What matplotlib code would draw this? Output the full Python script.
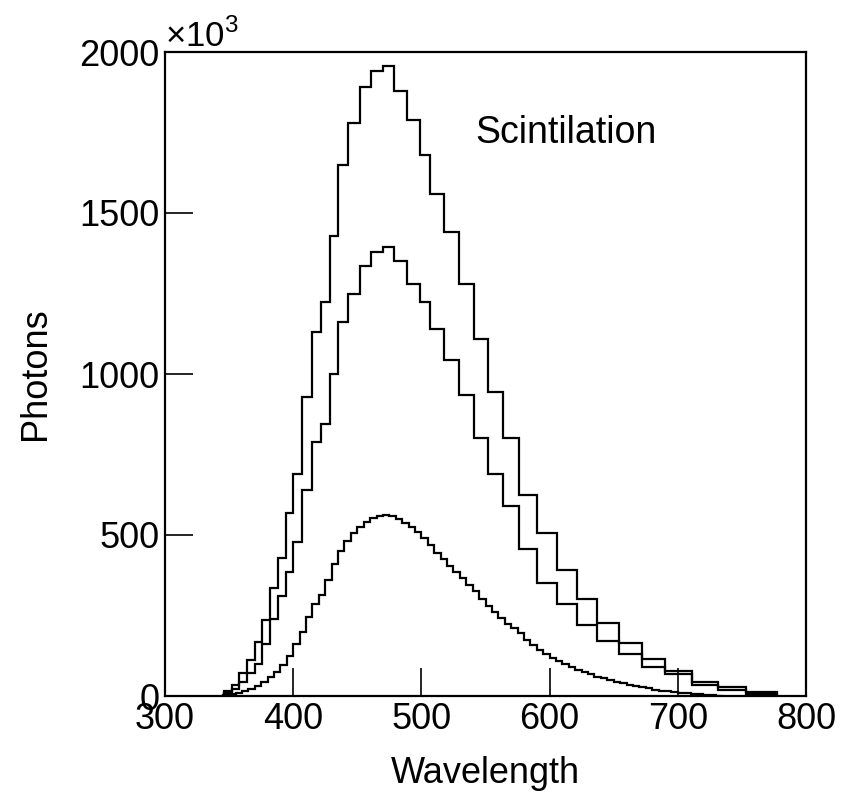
import numpy as np
import matplotlib
matplotlib.use("Agg")
import matplotlib.pyplot as plt

plt.rcParams['font.family'] = ['Liberation Sans', 'DejaVu Sans']
plt.rcParams['mathtext.fontset'] = 'custom'
plt.rcParams['mathtext.rm'] = 'Liberation Sans'

# bin edges (nm) shared by the two large spectra
edges_big = [346, 352, 358, 364, 370, 376, 382, 388, 394, 400, 407, 415, 422,
             429, 435, 443, 452, 461, 470, 479, 489, 499, 507, 518, 529, 541,
             552, 564, 576, 590, 606, 621, 637, 654, 672, 690, 711, 731, 753, 777]

# photons (x10^3)
top_vals = [15, 35, 70, 112, 168, 236, 335, 430, 568, 690, 930, 1130, 1225,
            1430, 1650, 1780, 1890, 1940, 1955, 1880, 1790, 1680, 1560, 1440,
            1280, 1110, 945, 800, 625, 505, 390, 300, 228, 166, 115, 78, 45,
            28, 12]
mid_vals = [8, 22, 45, 70, 100, 160, 240, 310, 385, 478, 640, 790, 845,
            1000, 1160, 1250, 1335, 1380, 1395, 1350, 1280, 1225, 1140, 1045,
            935, 800, 690, 590, 455, 350, 285, 220, 172, 130, 90, 68, 35,
            18, 5]

# small spectrum, 5 nm bins
edges_small = list(range(345, 740, 5))
small_vals = [3, 6, 10, 16, 22, 30, 42, 58, 75, 95, 125, 160, 200, 245, 285,
              315, 360, 410, 450, 480, 505, 525, 540, 552, 560, 562, 558, 550,
              538, 525, 508, 490, 470, 445, 425, 405, 385, 365, 345, 325, 300,
              280, 260, 242, 225, 210, 195, 175, 158, 142, 130, 118, 108, 98,
              90, 82, 75, 68, 60, 55, 50, 45, 40, 35, 30, 27, 24, 20, 17, 14,
              12, 10, 8, 6, 5, 3, 2, 1]

fig = plt.figure(figsize=(8.56, 7.93), dpi=100)
ax = fig.add_axes([165 / 856, 97 / 793, 641 / 856, 644 / 793])

for vals, edg in [(top_vals, edges_big), (mid_vals, edges_big), (small_vals, edges_small)]:
    ax.stairs(vals, edg, color='black', lw=1.6, baseline=0)

ax.set_xlim(300, 800)
ax.set_ylim(0, 2000)
ax.set_xticks([300, 400, 500, 600, 700, 800])
ax.set_yticks([0, 500, 1000, 1500, 2000])
ax.tick_params(direction='in', length=20, width=1.2, labelsize=26, pad=4,
               top=False, right=False)
for s in ax.spines.values():
    s.set_linewidth(1.6)

ax.set_xlabel('Wavelength', fontsize=26, labelpad=14)
ax.set_ylabel('Photons', fontsize=26, labelpad=19)
ax.text(0.0, 1.008, r'$\times10^{3}$', transform=ax.transAxes, fontsize=25,
        ha='left', va='baseline')
ax.text(0.4836, 0.859, 'Scintilation', transform=ax.transAxes, fontsize=27,
        ha='left', va='baseline')

fig.savefig('out.png', dpi=100)
